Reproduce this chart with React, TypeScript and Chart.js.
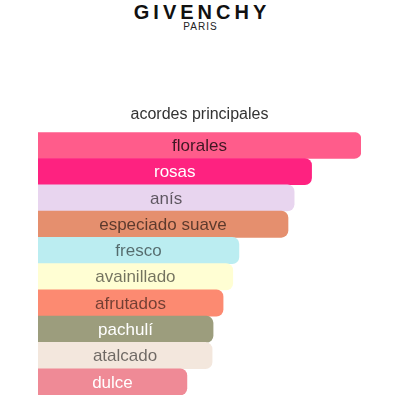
import { useRef, useEffect } from 'react'
import { Chart, registerables } from 'chart.js'
import type { Plugin } from 'chart.js'

Chart.register(...registerables)

const ACCORDS = ['florales', 'rosas', 'anís', 'especiado suave', 'fresco', 'avainillado', 'afrutados', 'pachulí', 'atalcado', 'dulce']
const STRENGTH = [100, 84.7, 79.3, 77.4, 62.2, 60.3, 57.3, 54.2, 53.9, 46.1]
const BAR_COLORS = ['#ff5c8b', '#fe2280', '#e8d5ef', '#e58f6e', '#bbedf1', '#fffed3', '#fc8a71', '#9c9d7d', '#f3e7dd', '#ef8a96']
const TEXT_COLORS = [
  'rgba(0,0,0,0.75)', '#ffffff', 'rgba(0,0,0,0.6)', 'rgba(0,0,0,0.6)', 'rgba(0,0,0,0.55)',
  'rgba(0,0,0,0.55)', 'rgba(0,0,0,0.55)', '#ffffff', 'rgba(0,0,0,0.55)', '#ffffff',
]

const FONT = '"Liberation Sans", Arial, sans-serif'

// writes each accord name in the middle of its bar
const barLabels: Plugin<'bar'> = {
  id: 'barLabels',
  afterDatasetsDraw(chart) {
    const { ctx } = chart
    const meta = chart.getDatasetMeta(0)
    ctx.save()
    ctx.font = `17px ${FONT}`
    ctx.textAlign = 'center'
    ctx.textBaseline = 'middle'
    meta.data.forEach((bar, i) => {
      const { x, y, base } = bar.getProps(['x', 'y', 'base'], true) as { x: number; y: number; base: number }
      ctx.fillStyle = TEXT_COLORS[i]
      ctx.fillText(ACCORDS[i], (x + base) / 2, y + 1)
    })
    ctx.restore()
  },
}

export default function App() {
  const canvasRef = useRef<HTMLCanvasElement>(null)

  useEffect(() => {
    if (!canvasRef.current) return
    const chart = new Chart(canvasRef.current, {
      type: 'bar',
      data: {
        labels: ACCORDS,
        datasets: [{
          data: STRENGTH,
          backgroundColor: BAR_COLORS,
          borderRadius: 7,
          barPercentage: 1,
          categoryPercentage: 1,
        }],
      },
      options: {
        indexAxis: 'y',
        responsive: false,
        animation: false,
        layout: { padding: { top: 105, left: 38, right: 39, bottom: 5 } },
        scales: {
          x: { display: false, min: 0, max: 100 },
          y: { display: false },
        },
        plugins: {
          legend: { display: false },
          tooltip: { enabled: false },
          title: {
            display: true,
            text: 'acordes principales',
            color: '#333333',
            font: { family: FONT, size: 16, weight: 'normal' },
            padding: { top: 0, bottom: 8 },
          },
        },
      },
      plugins: [barLabels],
    })
    return () => chart.destroy()
  }, [])

  return (
    <div style={{ position: 'fixed', left: 0, top: 0, width: 400, height: 400, background: '#fff', fontFamily: FONT }}>
      <div style={{ position: 'absolute', top: 0, left: 0, width: 400, textAlign: 'center', fontSize: 20, lineHeight: '24px', letterSpacing: 4, paddingLeft: 4, boxSizing: 'border-box', fontWeight: 600, color: '#111' }}>
        GIVENCHY
      </div>
      <div style={{ position: 'absolute', top: 21, left: 0, width: 400, textAlign: 'center', fontSize: 10, lineHeight: '12px', letterSpacing: 1, paddingLeft: 1, boxSizing: 'border-box', color: '#222' }}>
        PARIS
      </div>
      <canvas ref={canvasRef} width={400} height={400} style={{ position: 'absolute', left: 0, top: 0 }} />
    </div>
  )
}
